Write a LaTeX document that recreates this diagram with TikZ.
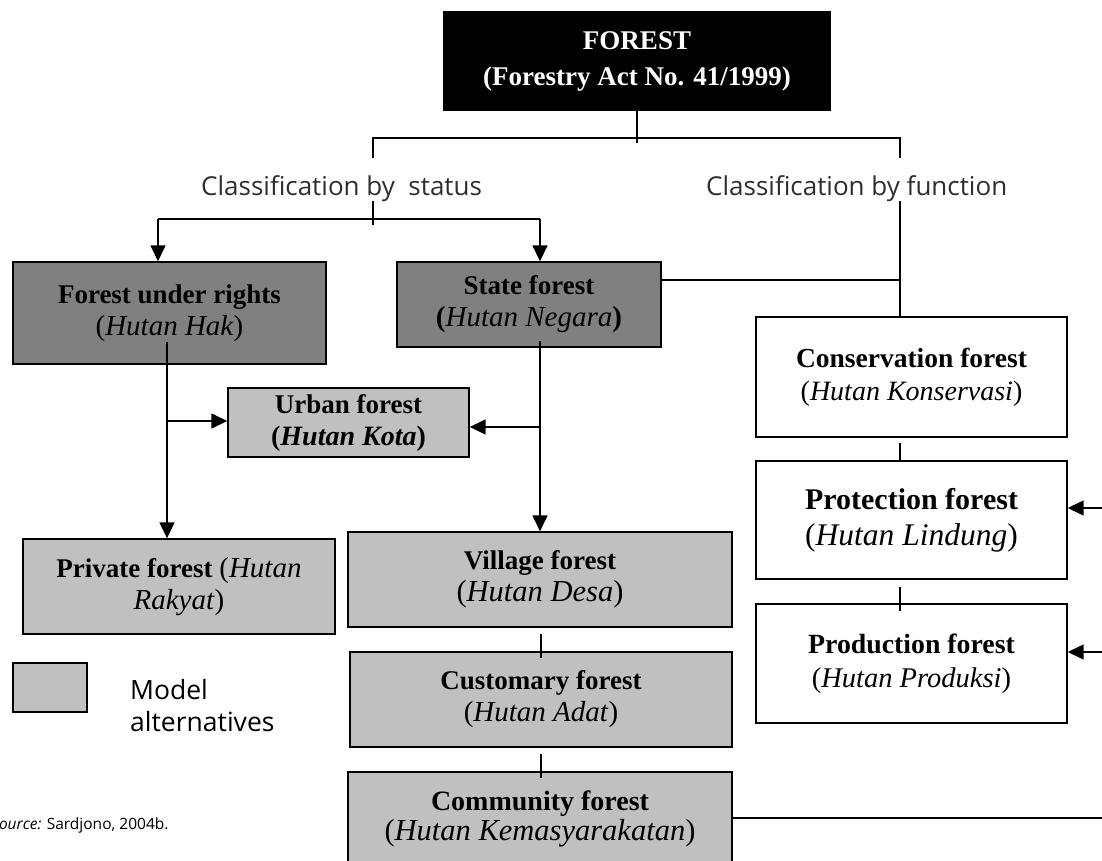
\documentclass[tikz,border=0pt]{standalone}
\usepackage{fontspec}
\setmainfont{Liberation Serif}
\newfontfamily\osans{Open Sans}
\usetikzlibrary{arrows.meta}
\definecolor{darkbox}{HTML}{808080}
\definecolor{lightbox}{HTML}{C0C0C0}
\newcommand\boxttl[2][27]{{\fontsize{#1}{32}\selectfont\bfseries #2}}
\newcommand\boxsub[2][29]{{\fontsize{#1}{32}\selectfont(\textit{#2})}}
\begin{document}
\begin{tikzpicture}[x=1pt,y=-1pt,
  box/.style={draw=black, line width=1.4pt, inner sep=0pt, align=center,
    font=\fontsize{27}{32}\selectfont},
  conn/.style={line width=1.5pt},
  arr/.style={line width=1.5pt, -{Triangle[length=16pt,width=15pt]}},
  cls/.style={font=\osans\fontsize{26}{30}\selectfont, text=black!82, inner sep=0pt}
]
\useasboundingbox (0,0) rectangle (1102,861);

% top box
\node[box, fill=black, text=white, minimum width=386pt, minimum height=98pt,
  font=\fontsize{27}{36}\selectfont\bfseries] (forest) at (637,61)
  {FOREST\\(Forestry Act No. 41/1999)};

% status branch
\node[box, fill=darkbox, minimum width=313pt, minimum height=102pt] (rights) at (169.5,313)
  {\boxttl{Forest under rights}\\\boxsub{Hutan Hak}};
\node[box, fill=darkbox, minimum width=264pt, minimum height=85pt] (state) at (529,304.5)
  {\boxttl{State forest}\\{\fontsize{29}{32}\selectfont\textbf{(}\textit{Hutan Negara}\textbf{)}}};
\node[box, fill=lightbox, minimum width=241pt, minimum height=69pt] (urban) at (348.5,422.5)
  {\boxttl{Urban forest}\\{\fontsize{28}{32}\selectfont\textbf{(\textit{Hutan Kota})}}};
\node[box, fill=lightbox, minimum width=312pt, minimum height=95pt] (private) at (179,586.5)
  {\boxttl{Private forest} {\fontsize{29}{32}\selectfont(\textit{Hutan}}\\{\fontsize{29}{32}\selectfont\textit{Rakyat})}};
\node[box, fill=lightbox, minimum width=384pt, minimum height=95pt] (village) at (540,579.5)
  {\boxttl{Village forest}\\\boxsub[30.5]{Hutan Desa}};
\node[box, fill=lightbox, minimum width=382pt, minimum height=95pt] (customary) at (541,699.5)
  {\boxttl{Customary forest}\\\boxsub{Hutan Adat}};
\node[box, fill=lightbox, minimum width=384pt, minimum height=94pt,
  font=\fontsize{27}{30}\selectfont] (community) at (540,819)
  {\boxttl[28]{Community forest}\\\boxsub[30.5]{Hutan Kemasyarakatan}};

% function branch
\node[box, fill=white, minimum width=311pt, minimum height=120pt,
  font=\fontsize{27.5}{33}\selectfont] (conservation) at (911.5,377)
  {\boxttl[27.5]{Conservation forest}\\\boxsub[28]{Hutan Konservasi}};
\node[box, fill=white, minimum width=311pt, minimum height=118pt,
  font=\fontsize{30}{36}\selectfont] (protection) at (911.5,520)
  {\boxttl[30]{Protection forest}\\\boxsub[31.5]{Hutan Lindung}};
\node[box, fill=white, minimum width=311pt, minimum height=119pt,
  font=\fontsize{28}{34}\selectfont] (production) at (911.5,663.5)
  {\boxttl[27.8]{Production forest}\\\boxsub[28.5]{Hutan Produksi}};

% classification labels
\node[cls, anchor=base west] (bystatus) at (201,195) {Classification by~ status};
\node[cls, anchor=base west] (byfunction) at (706,195) {Classification by function};

% legend and source
\node[box, fill=lightbox, minimum width=74pt, minimum height=49pt] (legend) at (50,687.5) {};
\node[anchor=west, inner sep=0pt, align=left, font=\osans\fontsize{26.5}{32}\selectfont] (legtext) at (130,706)
  {Model\\alternatives};
\node[anchor=base west, inner sep=0pt, font=\osans\fontsize{15.5}{18}\selectfont] (source) at (-9,829)
  {\textit{Source:} Sardjono, 2004b.};

% coordinates
\coordinate (t1) at (637,143);
\coordinate (hl) at (373,138);
\coordinate (hr) at (900,138);
\coordinate (hld) at (373,158);
\coordinate (hrd) at (900,158);
\coordinate (sv1) at (373,201);
\coordinate (sv2) at (373,225);
\coordinate (sL) at (158,219);
\coordinate (sR) at (540,219);
\coordinate (fn) at (900,201);
\coordinate (st) at (661,280);
\coordinate (stj) at (900,280);
\coordinate (hak) at (167,342);
\coordinate (hakb) at (167,421);
\coordinate (neg) at (540,341);
\coordinate (negb) at (540,427);
\coordinate (vc1) at (541,634);
\coordinate (vc2) at (541,658);
\coordinate (cc1) at (541,754);
\coordinate (cc2) at (541,778);
\coordinate (cp1) at (900,443);
\coordinate (cp2) at (900,461);
\coordinate (pp1) at (900,587);
\coordinate (pp2) at (900,611);
\coordinate (pr) at (1102,508);
\coordinate (pd) at (1102,652);
\coordinate (cm) at (1102,818);

% connectors
\draw[conn] (forest.south) -- (t1);
\draw[conn] (hld) -- (hl) -- (hr) -- (hrd);
\draw[conn] (sv1) -- (sv2);
\draw[conn] (sL) -- (sR);
\draw[arr] (sL) -- (sL |- rights.north);
\draw[arr] (sR) -- (sR |- state.north);
\draw[conn] (fn) -- (fn |- conservation.north);
\draw[conn] (st) -- (stj);
\draw[arr] (hak) -- (hak |- private.north);
\draw[arr] (hakb) -- (hakb -| urban.west);
\draw[arr] (neg) -- (neg |- village.north);
\draw[arr] (negb) -- (negb -| urban.east);
\draw[conn] (vc1) -- (vc2);
\draw[conn] (cc1) -- (cc2);
\draw[conn] (cp1) -- (cp2);
\draw[conn] (pp1) -- (pp2);
\draw[arr] (pr) -- (pr -| protection.east);
\draw[arr] (pd) -- (pd -| production.east);
\draw[conn] (cm -| community.east) -- (cm);
\end{tikzpicture}
\end{document}
